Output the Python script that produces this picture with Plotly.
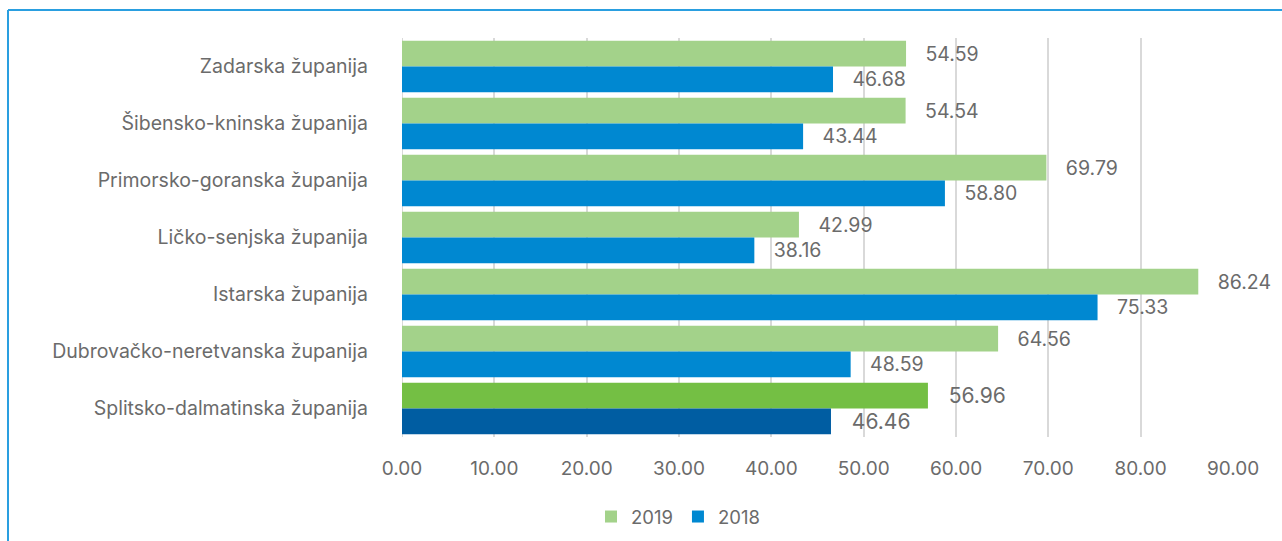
import plotly.graph_objects as go

categories = ["Zadarska županija", "Šibensko-kninska županija", "Primorsko-goranska županija",
              "Ličko-senjska županija", "Istarska županija", "Dubrovačko-neretvanska županija",
              "Splitsko-dalmatinska županija"]
values_2019 = [54.59, 54.54, 69.79, 42.99, 86.24, 64.56, 56.96]
values_2018 = [46.68, 43.44, 58.80, 38.16, 75.33, 48.59, 46.46]
x_ticks = [0, 10, 20, 30, 40, 50, 60, 70, 80, 90]

highlight = "Splitsko-dalmatinska županija"
col19 = ["#74bf44" if c == highlight else "#a3d28a" for c in categories]
col18 = ["#005da2" if c == highlight else "#0088d1" for c in categories]
size19 = [23 if c == highlight else 19.5 for c in categories]
size18 = [23 if c == highlight else 19.5 for c in categories]

TXT = "#6b6b6b"
FONT = "Inter"

fig = go.Figure()
fig.add_trace(go.Bar(
    name="2019", y=categories, x=values_2019, orientation="h",
    marker=dict(color=col19, line=dict(width=0)),
    text=["   " + f"{v:.2f}" for v in values_2019], textposition="outside",
    textfont=dict(size=size19, color=TXT, family=FONT), cliponaxis=False,
))
fig.add_trace(go.Bar(
    name="2018", y=categories, x=values_2018, orientation="h",
    marker=dict(color=col18, line=dict(width=0)),
    text=["   " + f"{v:.2f}" for v in values_2018], textposition="outside",
    textfont=dict(size=size18, color=TXT, family=FONT), cliponaxis=False,
))

L, R, T, B = 402, 49, 38, 104
W, H = 1282, 541
pw, ph = W - L - R, H - T - B

def px_x(p):
    return (p - L) / pw

def px_y(p):
    return (H - B - p) / ph

fig.update_layout(
    width=W, height=H,
    margin=dict(l=L, r=R, t=T, b=B, autoexpand=False),
    paper_bgcolor="white", plot_bgcolor="white",
    barmode="group", bargap=0.1, bargroupgap=0,
    font=dict(family=FONT, color=TXT, size=18),
    showlegend=True,
    legend=dict(orientation="h", x=px_x(678), xanchor="center", y=px_y(517), yanchor="middle",
                font=dict(size=18.5, color=TXT), itemwidth=30, traceorder="normal"),
    xaxis=dict(range=[0, 90], tickvals=x_ticks, ticktext=[f"{v:.2f}" for v in x_ticks],
               showgrid=True, gridcolor="#d9d9d9", gridwidth=2, zeroline=False,
               showline=False, tickfont=dict(size=19, color=TXT), ticks="", ticklabelstandoff=18,
               automargin=False),
    yaxis=dict(autorange="reversed", showgrid=False, zeroline=False, showline=False,
               ticks="", tickfont=dict(size=19.5, color=TXT), ticklabelstandoff=33,
               automargin=False),
    shapes=[
        dict(type="line", xref="paper", yref="paper", x0=px_x(8), x1=px_x(1290),
             y0=px_y(10), y1=px_y(10), line=dict(color="#2a9fe0", width=2)),
        dict(type="line", xref="paper", yref="paper", x0=px_x(8), x1=px_x(8),
             y0=px_y(10), y1=px_y(545), line=dict(color="#2a9fe0", width=2)),
        dict(type="line", xref="x", yref="paper", x0=0, x1=0, y0=0, y1=1,
             line=dict(color="#d9d9d9", width=2), layer="below"),
    ],
)

fig.write_html("out.html", config={"displayModeBar": False},
               post_script="document.body.style.margin='0';")
